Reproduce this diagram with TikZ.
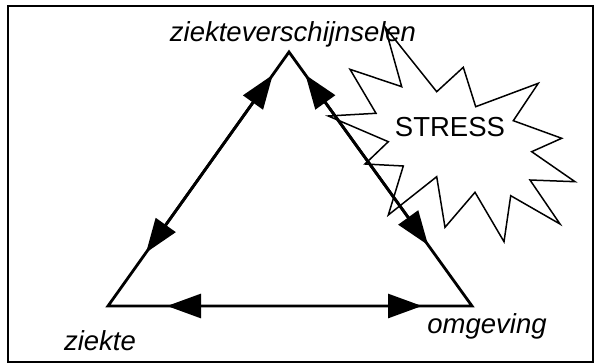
\documentclass[tikz,border=0pt]{standalone}
\usepackage{fontspec}
\setmainfont{Liberation Sans}
\usetikzlibrary{arrows.meta,calc}
\begin{document}
\begin{tikzpicture}[x=1pt,y=-1pt,
  lbl/.style={font=\fontsize{27.5}{32}\selectfont\itshape, anchor=base, inner sep=0pt},
  edge/.style={line width=2.8pt, line join=miter},
  dbl/.style={line width=2.8pt, {Triangle[length=34pt,width=24pt]}-{Triangle[length=34pt,width=24pt]}},
  burst/.style={line width=1.5pt, fill=white, line join=miter}]
\useasboundingbox (0,0) rectangle (594,363);
\draw[line width=2pt] (7.5,6.5) rectangle (592.5,361.5);
% stress burst
\draw[burst] (385,27) -- (401.7,86.7) -- (350,69.3) -- (376,113.3) -- (328.3,116)
  -- (388.3,141.7) -- (365,164) -- (403.3,166) -- (388.3,215) -- (436.7,176.7)
  -- (445,227.3) -- (475,192.3) -- (504,241.7) -- (510.7,195.7) -- (560,224)
  -- (530,180) -- (575,181.7) -- (531.7,151.7) -- (561.7,138.3) -- (513.3,120.7)
  -- (538.3,83.3) -- (475.7,106.7) -- (463.3,67.3) -- (436.7,91.7) -- cycle;
\node[font=\fontsize{27.5}{32}\selectfont, anchor=base, inner sep=0pt] (stress) at (450,137) {STRESS};
% triangle
\coordinate (A) at (289,52);
\coordinate (B) at (108,306);
\coordinate (C) at (472,306);
\draw[edge] (A) -- (B) -- (C) -- cycle;
\coordinate (ab1) at ($(A)!0.09!(B)$);
\coordinate (ab2) at ($(A)!0.79!(B)$);
\coordinate (ac1) at ($(A)!0.09!(C)$);
\coordinate (ac2) at ($(A)!0.76!(C)$);
\coordinate (bc1) at (167,306);
\coordinate (bc2) at (422,306);
\draw[dbl] (ab1) -- (ab2);
\draw[dbl] (ac1) -- (ac2);
\draw[dbl] (bc1) -- (bc2);
% labels
\node[lbl] (top) at (293,42) {ziekteverschijnselen};
\node[lbl] (left) at (100,350) {ziekte};
\node[lbl] (right) at (487,333) {omgeving};
\end{tikzpicture}
\end{document}
